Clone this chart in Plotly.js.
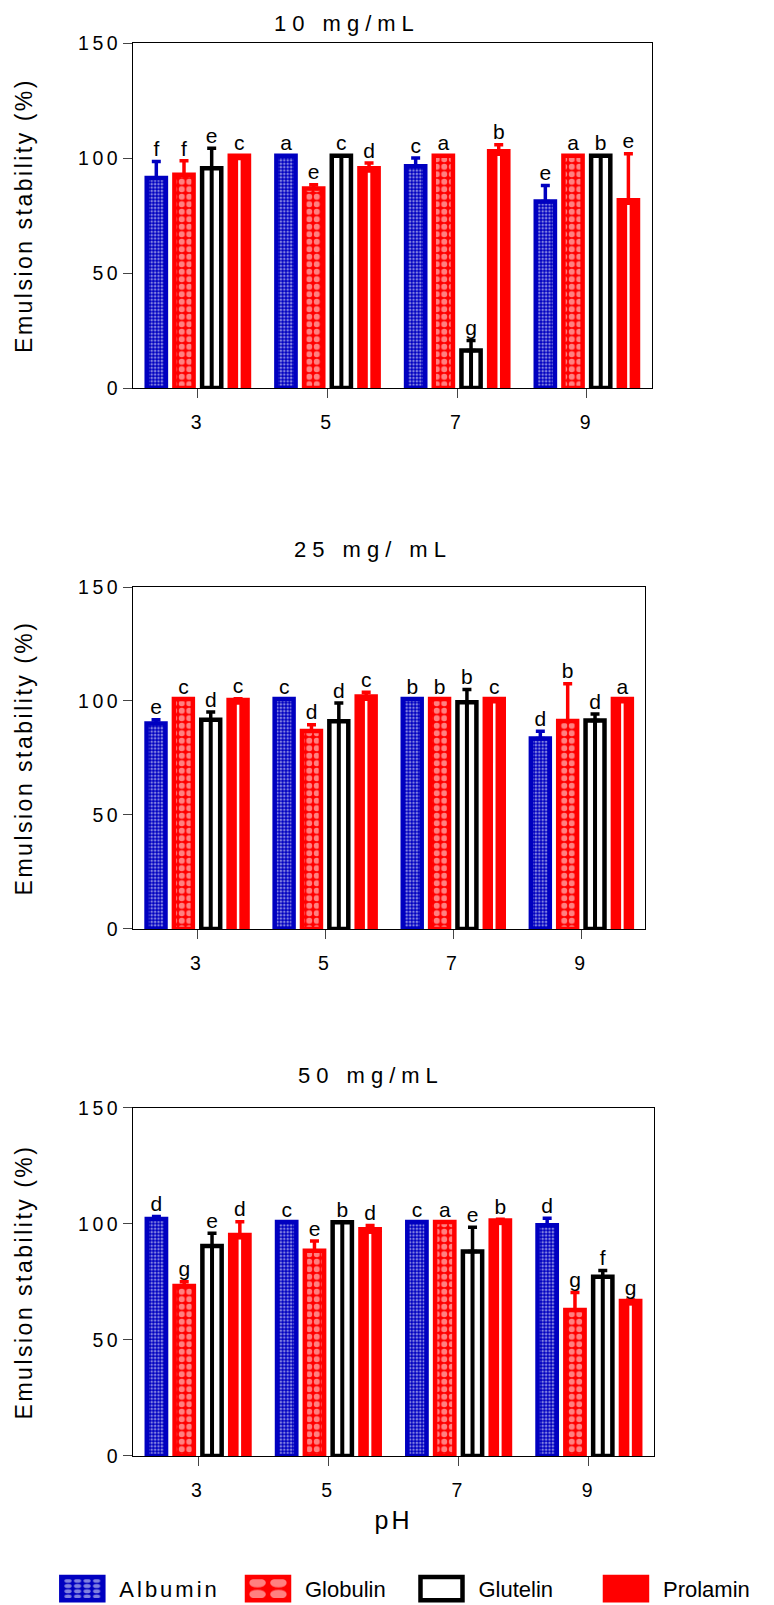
<!DOCTYPE html>
<html>
<head>
<meta charset="utf-8">
<script src="https://cdn.plot.ly/plotly-3.0.1.min.js"></script>
<style>
  body { margin: 0; background: #fff; }
  .annotation-text { letter-spacing: 6px; }
  .legendtext { letter-spacing: 3px; }
  .g-ytitle text, .g-y2title text, .g-y3title text { letter-spacing: 2.5px; }
  .g-x3title text { letter-spacing: 3px; }
  .xaxislayer-above text, .yaxislayer-above text { letter-spacing: 3.5px; }
</style>
</head>
<body>
<div id="chart" style="width:774px;height:1605px;"></div>
<script>
// ---------- data ----------
const PH = ['3', '5', '7', '9'];
const SERIES = ['Albumin', 'Globulin', 'Glutelin', 'Prolamin'];
const PANEL_TITLES = ['10 mg/mL', '25 mg/ mL', '50 mg/mL'];
const Y_TICKS = [0, 50, 100, 150];

// 10 mg/mL
const alb10 = [91.3, 101.0, 96.4, 81.1];
const alb10Sd = [7.2, 0, 3.6, 6.9];
const alb10Sig = ['f', 'a', 'c', 'e'];
const glo10 = [92.7, 86.8, 101.0, 101.0];
const glo10Sd = [6.1, 1.6, 0, 0];
const glo10Sig = ['f', 'e', 'a', 'a'];
const glu10 = [95.6, 101.0, 16.3, 101.0];
const glu10Sd = [8.7, 0, 4.4, 0];
const glu10Sig = ['e', 'c', 'g', 'b'];
const pro10 = [101.0, 95.6, 102.9, 81.6];
const pro10Sd = [0, 2.2, 2.9, 20.3];
const pro10Sig = ['c', 'd', 'b', 'e'];

// 25 mg/mL
const alb25 = [90.1, 100.9, 100.9, 83.5];
const alb25Sd = [1.7, 0, 0, 3.2];
const alb25Sig = ['e', 'c', 'b', 'd'];
const glo25 = [100.9, 86.8, 100.9, 91.2];
const glo25Sd = [0, 2.8, 0, 16.4];
const glo25Sig = ['c', 'd', 'b', 'b'];
const glu25 = [91.8, 91.1, 99.4, 91.4];
const glu25Sd = [3.4, 8.0, 5.6, 2.9];
const glu25Sig = ['d', 'd', 'b', 'd'];
const pro25 = [100.4, 102.0, 100.9, 100.9];
const pro25Sd = [0.6, 1.8, 0, 0];
const pro25Sig = ['c', 'c', 'c', 'a'];

// 50 mg/mL
const alb50 = [102.2, 100.9, 100.9, 99.5];
const alb50Sd = [1.0, 0, 0, 3.0];
const alb50Sig = ['d', 'c', 'c', 'd'];
const glo50 = [73.3, 88.5, 100.9, 62.9];
const glo50Sd = [1.8, 4.2, 0, 7.6];
const glo50Sig = ['g', 'e', 'a', 'g'];
const glu50 = [90.5, 100.7, 88.1, 77.3];
const glu50Sd = [5.5, 0, 10.5, 2.6];
const glu50Sig = ['e', 'b', 'e', 'f'];
const pro50 = [95.3, 97.7, 101.5, 66.8];
const pro50Sd = [5.7, 1.6, 0.5, 0.4];
const pro50Sig = ['d', 'd', 'b', 'g'];

const PANELS = [
  { vals: [alb10, glo10, glu10, pro10], sd: [alb10Sd, glo10Sd, glu10Sd, pro10Sd], sig: [alb10Sig, glo10Sig, glu10Sig, pro10Sig] },
  { vals: [alb25, glo25, glu25, pro25], sd: [alb25Sd, glo25Sd, glu25Sd, pro25Sd], sig: [alb25Sig, glo25Sig, glu25Sig, pro25Sig] },
  { vals: [alb50, glo50, glu50, pro50], sd: [alb50Sd, glo50Sd, glu50Sd, pro50Sd], sig: [alb50Sig, glo50Sig, glu50Sig, pro50Sig] }
];

// ---------- styles ----------
const BLUE = 'rgb(0,0,192)';
const RED = 'rgb(255,0,0)';
const FONT = '"Liberation Sans", Arial, sans-serif';
const BARGAP = 0.146, BARGROUPGAP = 0.307;
const STYLES = [
  { fill: BLUE, line: BLUE, err: BLUE, pattern: { shape: '.', fgcolor: 'white', bgcolor: BLUE, size: 3.4, solidity: 0.45, fillmode: 'overlay' } },
  { fill: RED, line: RED, err: RED, pattern: { shape: '.', fgcolor: 'white', bgcolor: RED, size: 7.5, solidity: 0.5, fillmode: 'overlay' } },
  { fill: 'white', line: 'black', err: 'black', pattern: null },
  { fill: RED, line: RED, err: RED, pattern: null }
];
// inner stripe through each bar's centre (none for the checkered series)
const STRIPES = [null, null, { color: 'black', width: 4, inset: 0 }, { color: 'white', width: 2.5, inset: 2 }];
const LEGEND_IDS = ['legend', 'legend2', 'legend3', 'legend4'];

const traces = [];
const shapes = [];
const slot = (1 - BARGAP) / SERIES.length;   // width of one series slot, in category units
PANELS.forEach((panel, p) => {
  const sfx = p === 0 ? '' : String(p + 1);
  const xa = 'x' + sfx, ya = 'y' + sfx;
  SERIES.forEach((name, s) => {
    const st = STYLES[s];
    const marker = { color: st.fill, line: { color: st.line, width: 4.5 } };
    if (st.pattern) marker.pattern = st.pattern;
    traces.push({
      type: 'bar', name: name, x: PH, y: panel.vals[s], xaxis: xa, yaxis: ya,
      marker: marker,
      error_y: { type: 'data', symmetric: false, array: panel.sd[s], arrayminus: panel.sd[s].map(() => 0),
                 color: st.err, thickness: 3.5, width: 4.5 },
      showlegend: p === 0, legend: LEGEND_IDS[s], legendgroup: name, hoverinfo: 'skip'
    });
    // centre stripe of the bar: a line shape at the category index, shifted to the series slot
    const sp = STRIPES[s];
    if (sp) {
      const shift = (s - (SERIES.length - 1) / 2) * slot;
      PH.forEach((cat, k) => {
        shapes.push({
          type: 'line', xref: xa, yref: ya, x0: k, x1: k, x0shift: shift, x1shift: shift,
          y0: 0, y1: Math.max(panel.vals[s][k] - sp.inset, 0),
          line: { color: sp.color, width: sp.width }, layer: 'above'
        });
      });
    }
  });
  // significance letters above the error bars
  SERIES.forEach((name, s) => {
    traces.push({
      type: 'scatter', mode: 'text', x: PH, y: panel.vals[s].map((v, k) => v + panel.sd[s][k]),
      text: panel.sig[s], textposition: 'top center', xaxis: xa, yaxis: ya,
      textfont: { family: FONT, size: 21, color: '#000' }, cliponaxis: false,
      showlegend: false, hoverinfo: 'skip'
    });
  });
});

function xAxis(domainEnd, anchor, title) {
  const ax = {
    domain: [0, domainEnd], anchor: anchor, type: 'category', range: [-0.5, 3.5],
    showline: true, mirror: true, linecolor: '#000', linewidth: 1,
    ticks: 'outside', ticklen: 9, tickwidth: 1, tickcolor: '#444', ticklabelstandoff: 8,
    showgrid: false, zeroline: false, tickfont: { family: FONT, size: 19.5, color: '#000' }, fixedrange: true
  };
  if (title) ax.title = { text: title, font: { family: FONT, size: 25, color: '#000' }, standoff: 11 };
  return ax;
}
function yAxis(domain, anchor) {
  return {
    domain: domain, anchor: anchor, range: [0, 150], tickvals: Y_TICKS,
    showline: true, mirror: true, linecolor: '#000', linewidth: 1,
    ticks: 'outside', ticklen: 9, tickwidth: 1, tickcolor: '#444', ticklabelstandoff: -2,
    showgrid: false, zeroline: false, tickfont: { family: FONT, size: 19.5, color: '#000' }, fixedrange: true,
    title: { text: 'Emulsion stability (%)', font: { family: FONT, size: 23, color: '#000' }, standoff: 49 }
  };
}
function legendAt(x) {
  return { x: x, xanchor: 'left', y: -0.094, yanchor: 'middle', orientation: 'h',
           font: { family: FONT, size: 22, color: '#000' }, itemwidth: 64,
           bgcolor: 'rgba(0,0,0,0)', borderwidth: 0, itemclick: false, itemdoubleclick: false };
}

const TITLE_POS = [[0.410, 1.0136], [0.460, 0.6412], [0.4565, 0.2694]];
const annotations = PANEL_TITLES.map((t, i) => ({
  text: t, xref: 'paper', yref: 'paper', x: TITLE_POS[i][0], y: TITLE_POS[i][1],
  xanchor: 'center', yanchor: 'middle', showarrow: false,
  font: { family: FONT, size: 22, color: '#000' }
}));

const layout = {
  width: 774, height: 1605,
  margin: { l: 133, r: 120, t: 43, b: 149, autoexpand: false },
  paper_bgcolor: 'white', plot_bgcolor: 'white',
  font: { family: FONT, size: 19, color: '#000' },
  barmode: 'group', bargap: BARGAP, bargroupgap: BARGROUPGAP,
  scattermode: 'group', scattergap: BARGAP,
  showlegend: true,
  legend: legendAt(-0.1683), legend2: legendAt(0.1881), legend3: legendAt(0.5211), legend4: legendAt(0.8752),
  xaxis: xAxis(0.9956, 'y', null),
  yaxis: yAxis([0.7558, 1], 'x'),
  xaxis2: xAxis(0.9835, 'y2', null),
  yaxis2: yAxis([0.373, 0.615], 'x2'),
  xaxis3: xAxis(1, 'y3', 'pH'),
  yaxis3: yAxis([0, 0.2463], 'x3'),
  shapes: shapes,
  annotations: annotations
};

Plotly.newPlot('chart', traces, layout, { displayModeBar: false, staticPlot: true }).then(() => {
  document.querySelectorAll('.legendpoints path').forEach(pth => {
    const tr = pth.getAttribute('transform') || '';
    pth.setAttribute('transform', tr + ' scale(3.5,1.92)');
    pth.style.vectorEffect = 'non-scaling-stroke';
  });
});
</script>
</body>
</html>
